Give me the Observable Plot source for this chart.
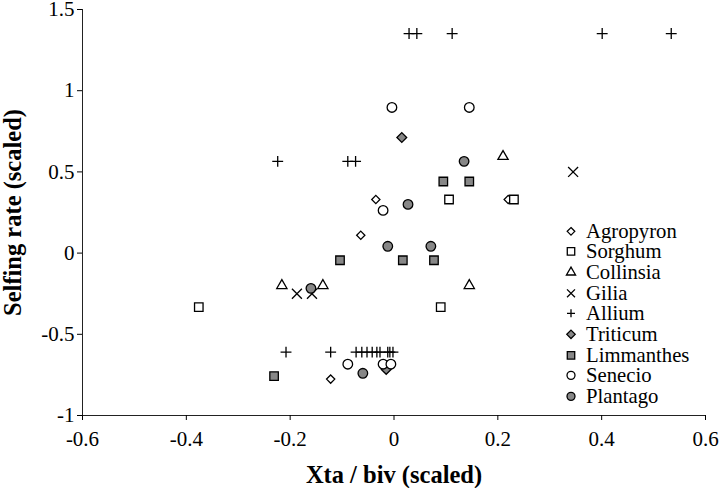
<!DOCTYPE html>
<html>
<head>
<meta charset="utf-8">
<script src="https://cdn.jsdelivr.net/npm/d3@7"></script>
<script src="https://cdn.jsdelivr.net/npm/@observablehq/plot@0.6"></script>
<style>
  body { margin: 0; background: #fff; }
  #wrap { position: relative; width: 720px; height: 488px; background: #fff; }
  g[aria-label="x-axis label"], g[aria-label="y-axis label"] { font-size: 24.5px; font-weight: bold; }
  #legend { position: absolute; left: 563px; top: 220.6px; font-family: "Liberation Serif", "Times New Roman", serif; font-size: 20.7px; color: #000; }
  #legend .row { display: flex; align-items: center; height: 20.7px; line-height: 20.7px; white-space: nowrap; }
  #legend svg { width: 16px; height: 20.7px; margin-right: 7px; flex: none; }
</style>
</head>
<body>
<div id="wrap"></div>
<script>
// ---- data ----
const species = ["Agropyron", "Sorghum", "Collinsia", "Gilia", "Allium", "Triticum", "Limmanthes", "Senecio", "Plantago"];

const agropyronX = [-0.035, -0.064, 0.22, -0.122];
const agropyronY = [0.33, 0.11, 0.33, -0.776];

const sorghumX = [0.106, 0.231, -0.376, 0.09];
const sorghumY = [0.33, 0.33, -0.333, -0.333];

const collinsiaX = [0.21, -0.216, -0.137, 0.145];
const collinsiaY = [0.595, -0.2, -0.2, -0.2];

const giliaX = [-0.187, -0.158, 0.345];
const giliaY = [-0.25, -0.25, 0.5];

const alliumX = [0.029, 0.044, 0.112, 0.401, 0.534,
                 -0.224, -0.089, -0.074,
                 -0.208, -0.122, -0.073, -0.062, -0.052, -0.042, -0.033, -0.027, -0.012, -0.008, -0.002];
const alliumY = [1.352, 1.352, 1.352, 1.352, 1.352,
                 0.565, 0.565, 0.565,
                 -0.61, -0.61, -0.61, -0.61, -0.61, -0.61, -0.61, -0.61, -0.61, -0.61, -0.61];

const triticumX = [0.015, -0.015];
const triticumY = [0.712, -0.716];

const limmanthesX = [0.095, 0.145, -0.104, 0.017, 0.077, -0.231];
const limmanthesY = [0.441, 0.441, -0.044, -0.044, -0.044, -0.757];

const senecioX = [-0.004, 0.145, -0.021, -0.089, -0.021, -0.006];
const senecioY = [0.897, 0.897, 0.263, -0.684, -0.684, -0.684];

const plantagoX = [0.135, 0.027, -0.012, 0.071, -0.16, -0.06];
const plantagoY = [0.565, 0.30, 0.042, 0.042, -0.217, -0.74];

const xTicks = [-0.6, -0.4, -0.2, 0, 0.2, 0.4, 0.6];
const yTicks = [-1, -0.5, 0, 0.5, 1, 1.5];
const xTitle = "Xta / biv (scaled)";
const yTitle = "Selfing rate (scaled)";

// ---- build table ----
const seriesX = {Agropyron: agropyronX, Sorghum: sorghumX, Collinsia: collinsiaX, Gilia: giliaX, Allium: alliumX,
                 Triticum: triticumX, Limmanthes: limmanthesX, Senecio: senecioX, Plantago: plantagoX};
const seriesY = {Agropyron: agropyronY, Sorghum: sorghumY, Collinsia: collinsiaY, Gilia: giliaY, Allium: alliumY,
                 Triticum: triticumY, Limmanthes: limmanthesY, Senecio: senecioY, Plantago: plantagoY};
const rows = species.flatMap(s => seriesX[s].map((x, i) => ({species: s, x, y: seriesY[s][i]})));

// ---- styles ----
const gray = "#878787";
const style = {
  Agropyron:  {symbol: "diamond2", fill: "white", r: 3.7, lr: 3.4},
  Sorghum:    {symbol: "square",   fill: "white", r: 4.8, lr: 4.2},
  Collinsia:  {symbol: "triangle", fill: "white", r: 3.8, lr: 3.4},
  Gilia:      {symbol: "times",    fill: "none",  r: 4.6, lr: 3.7},
  Allium:     {symbol: "plus",     fill: "none",  r: 3.6, lr: 2.7},
  Triticum:   {symbol: "diamond2", fill: gray,    r: 4.4, lr: 3.8},
  Limmanthes: {symbol: "square",   fill: gray,    r: 4.8, lr: 4.2},
  Senecio:    {symbol: "circle",   fill: "white", r: 4.8, lr: 4.0},
  Plantago:   {symbol: "circle",   fill: gray,    r: 4.8, lr: 4.0}
};

const plot = Plot.plot({
  width: 720,
  height: 488,
  marginLeft: 82,
  marginRight: 15,
  marginTop: 9,
  marginBottom: 73,
  style: {fontFamily: "'Liberation Serif', 'Times New Roman', serif", fontSize: "21px", color: "#000", background: "#fff"},
  x: {domain: [-0.6, 0.6]},
  y: {domain: [-1, 1.5]},
  marks: [
    Plot.ruleX([-0.6], {stroke: "#222", strokeWidth: 1}),
    Plot.ruleY([-1], {stroke: "#222", strokeWidth: 1}),
    Plot.axisX({ticks: xTicks, tickFormat: d => String(d), tickSize: 5, tickPadding: 11,
                label: xTitle, labelAnchor: "center", labelArrow: "none", labelOffset: 67}),
    Plot.axisY({ticks: yTicks, tickFormat: d => String(d), tickSize: 5, tickPadding: 3,
                label: yTitle, labelAnchor: "center", labelArrow: "none", labelOffset: 79}),
    ...species.map(s => Plot.dot(rows.filter(d => d.species === s), {
      x: "x", y: "y",
      symbol: style[s].symbol,
      r: style[s].r,
      fill: style[s].fill,
      stroke: "black",
      strokeWidth: 1.3
    }))
  ]
});

const wrap = document.getElementById("wrap");
wrap.appendChild(plot);

// ---- legend (overlaid inside the plot area, as in the reference) ----
const symbolMap = {diamond2: d3.symbolDiamond2, square: d3.symbolSquare, triangle: d3.symbolTriangle,
                   times: d3.symbolTimes, plus: d3.symbolPlus, circle: d3.symbolCircle};
const legend = document.createElement("div");
legend.id = "legend";
for (const s of species) {
  const st = style[s];
  const row = document.createElement("div");
  row.className = "row";
  const svg = d3.create("svg").attr("viewBox", "-8 -10.35 16 20.7");
  svg.append("path")
    .attr("d", d3.symbol(symbolMap[st.symbol], Math.PI * st.lr * st.lr)())
    .attr("fill", st.fill)
    .attr("stroke", "black")
    .attr("stroke-width", 1.3);
  row.appendChild(svg.node());
  const label = document.createElement("span");
  label.textContent = s;
  row.appendChild(label);
  legend.appendChild(row);
}
wrap.appendChild(legend);
</script>
</body>
</html>
